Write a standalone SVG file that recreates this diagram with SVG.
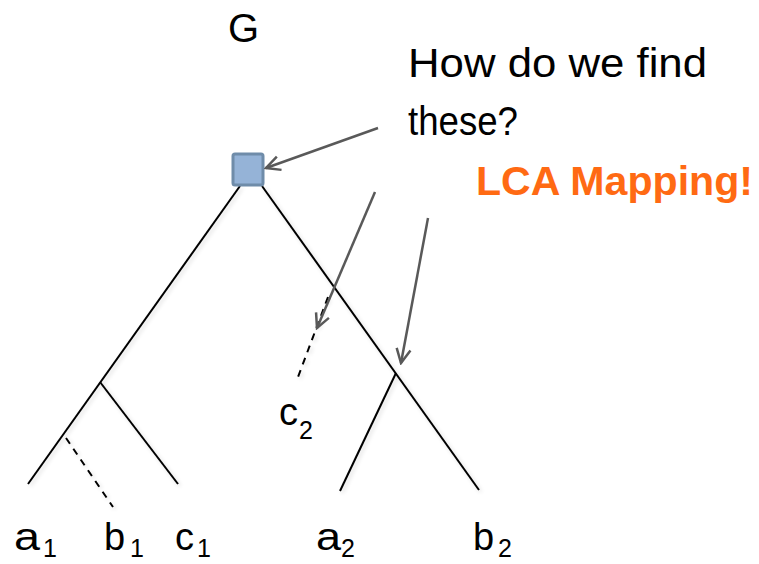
<svg xmlns="http://www.w3.org/2000/svg" width="759" height="564" viewBox="0 0 759 564">
<style>
.t{font-family:"Liberation Sans",Arial,sans-serif;fill:#000}
.lab{font-size:38px}
.sub{font-size:25px}
.br{stroke:#000;stroke-width:2;fill:none}
.dash{stroke:#000;stroke-width:2;fill:none;stroke-dasharray:7,6}
.ar{stroke:#595959;stroke-width:2.5;fill:none}
</style>
<defs>
<marker id="ah" viewBox="0 0 20 20" refX="18" refY="10" markerWidth="20" markerHeight="20" markerUnits="userSpaceOnUse" orient="auto">
<path d="M4,3 L18,10 L4,17" fill="none" stroke="#595959" stroke-width="2.5"/>
</marker>
<filter id="sh" x="-10%" y="-10%" width="120%" height="120%">
<feGaussianBlur in="SourceAlpha" stdDeviation="2"/>
<feOffset dx="2" dy="2" result="b"/>
<feComponentTransfer><feFuncA type="linear" slope="0.15"/></feComponentTransfer>
<feMerge><feMergeNode/><feMergeNode in="SourceGraphic"/></feMerge>
</filter>
</defs>
<rect width="759" height="564" fill="#fff"/>
<g id="tree" filter="url(#sh)">
<line class="br" x1="240" y1="186" x2="28" y2="484"/>
<line class="br" x1="100" y1="382" x2="178" y2="484"/>
<line class="br" x1="262" y1="186" x2="479" y2="490"/>
<line class="br" x1="396" y1="373" x2="340" y2="491"/>
<line class="dash" x1="66" y1="438" x2="113" y2="507"/>
<line class="dash" x1="328" y1="297" x2="298" y2="377"/>
</g>
<g id="root">
<rect x="233" y="154" width="30" height="31" fill="#95b3d7" stroke="#6f8ca9" stroke-width="3" rx="2"/>
</g>
<g id="connectors">
<line class="ar" x1="378" y1="128" x2="266" y2="168" marker-end="url(#ah)"/>
<line class="ar" x1="375" y1="192" x2="317" y2="328" marker-end="url(#ah)"/>
<line class="ar" x1="428" y1="218" x2="401" y2="363" marker-end="url(#ah)"/>
</g>
<g id="texts">
<text class="t" x="228" y="42" font-size="40">G</text>
<text class="t" x="408" y="77" font-size="40" textLength="299" lengthAdjust="spacingAndGlyphs">How do we find</text>
<text class="t" x="408" y="135" font-size="40" textLength="110" lengthAdjust="spacingAndGlyphs">these?</text>
<text x="476" y="195" font-family="Liberation Sans,Arial,sans-serif" font-weight="bold" font-size="40" fill="#ff6a13" textLength="277" lengthAdjust="spacingAndGlyphs">LCA Mapping!</text>
</g>
<g id="leaves">
<g id="a1"><text class="t lab" x="14" y="550" textLength="26" lengthAdjust="spacingAndGlyphs">a</text><text class="t sub" x="43" y="557">1</text></g>
<g id="b1"><text class="t lab" x="104" y="550">b</text><text class="t sub" x="130" y="557">1</text></g>
<g id="c1"><text class="t lab" x="175" y="550">c</text><text class="t sub" x="197" y="557">1</text></g>
<g id="c2"><text class="t lab" x="279" y="425">c</text><text class="t sub" x="299" y="439">2</text></g>
<g id="a2"><text class="t lab" x="316" y="550" textLength="25" lengthAdjust="spacingAndGlyphs">a</text><text class="t sub" x="341" y="557">2</text></g>
<g id="b2"><text class="t lab" x="473" y="550">b</text><text class="t sub" x="498" y="557">2</text></g>
</g>
</svg>
